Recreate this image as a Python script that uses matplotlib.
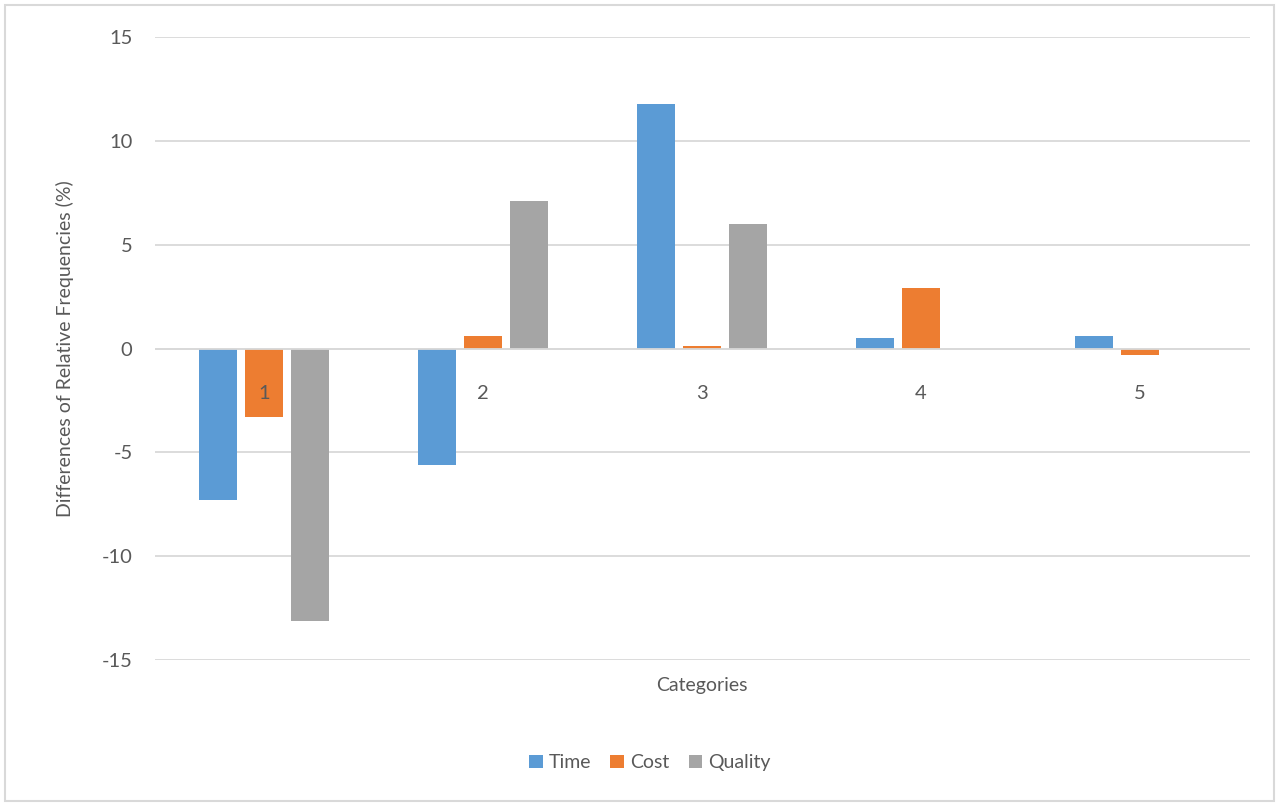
import numpy as np
import matplotlib
matplotlib.use('Agg')
from matplotlib import pyplot as plt
from matplotlib.patches import Rectangle

plt.rcParams['font.family'] = ['Lato', 'DejaVu Sans']
plt.rcParams['axes.unicode_minus'] = False

categories = ['1', '2', '3', '4', '5']
time_vals = [-7.3, -5.6, 11.8, 0.5, 0.6]
cost_vals = [-3.3, 0.6, 0.15, 2.9, -0.3]
quality_vals = [-13.1, 7.1, 6.0, 0, 0]

series = [('Time', time_vals, '#5b9bd5'),
          ('Cost', cost_vals, '#ed7d31'),
          ('Quality', quality_vals, '#a5a5a5')]

text_col = '#595959'
grid_col = '#d9d9d9'

fig = plt.figure(figsize=(12.79, 8.07), dpi=100)
ax = fig.add_axes([0.121, 0.182, 0.856, 0.772])

x = np.arange(len(categories))
width = 0.173
step = 0.21
for i, (name, vals, col) in enumerate(series):
    ax.bar(x + (i - 1) * step, vals, width, color=col, label=name, zorder=3)

ax.set_xlim(-0.5, len(categories) - 0.5)
ax.set_ylim(-15, 15)
ax.set_yticks([-15, -10, -5, 0, 5, 10, 15])
ax.yaxis.grid(True, color=grid_col, linewidth=1.3, zorder=0)
ax.axhline(0, color=grid_col, linewidth=1.3, zorder=4)

for s in ['top', 'right', 'left']:
    ax.spines[s].set_visible(False)
ax.spines['bottom'].set_position(('data', 0))
ax.spines['bottom'].set_visible(False)

ax.set_xticks(x)
ax.set_xticklabels(categories)
ax.xaxis.set_zorder(5)
ax.tick_params(axis='x', length=0, pad=26, labelsize=14.5, labelcolor=text_col)
ax.tick_params(axis='y', length=0, pad=16, labelsize=14.5, labelcolor=text_col)

fig.text(0.051, 0.568, 'Differences of Relative Frequencies (%)', rotation=90,
         ha='center', va='center', fontsize=14, color=text_col)
fig.text(0.549, 0.150, 'Categories', ha='center', va='center',
         fontsize=14, color=text_col)

fig.legend(loc='center', bbox_to_anchor=(0.508, 0.055), ncol=3, frameon=False,
           fontsize=14, labelcolor=text_col, handlelength=0.7, handleheight=0.7,
           handletextpad=0.3, columnspacing=1.0)

fig.patches.append(Rectangle((0.004, 0.007), 0.992, 0.987, transform=fig.transFigure,
                             fill=False, edgecolor='#d9d9d9', linewidth=1.5))

plt.savefig('out.png', dpi=100)
plt.close()
